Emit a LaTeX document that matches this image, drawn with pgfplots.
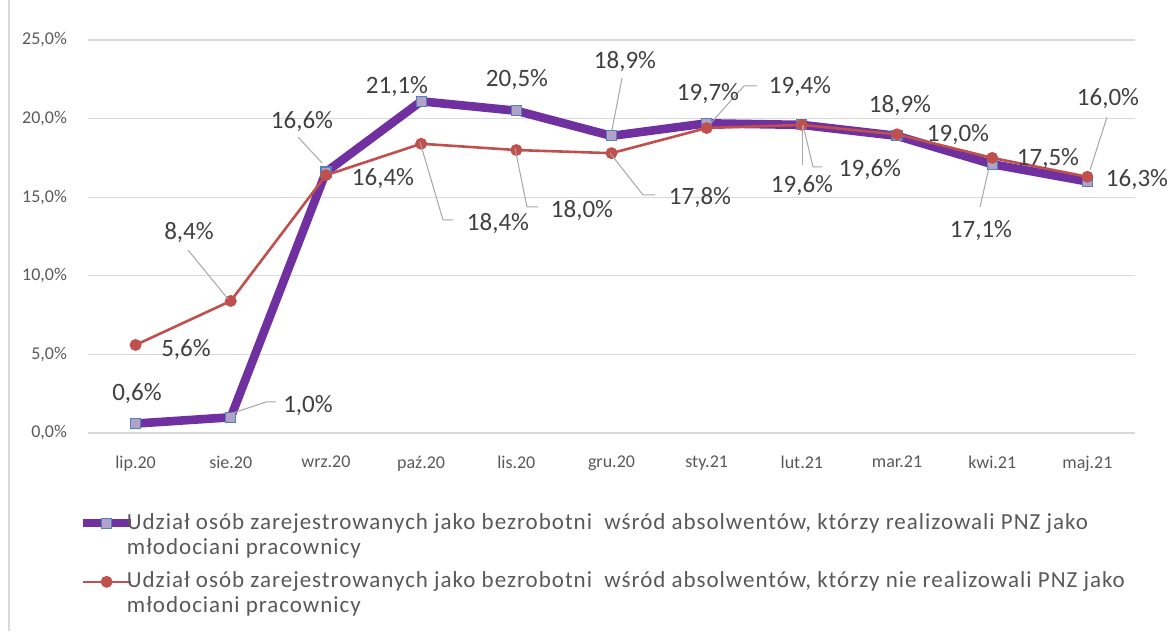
\documentclass[border=0pt]{standalone}
\usepackage{fontspec}
\setmainfont{Carlito}
\newfontfamily\legfont{Carlito}[LetterSpace=4.3]
\usepackage{pgfplots}
\pgfplotsset{compat=1.18}

\definecolor{fiolet}{HTML}{7030A0}
\definecolor{czerw}{HTML}{C0504D}
\definecolor{lawenda}{HTML}{B3A2C7}
\definecolor{niebieski}{HTML}{4F81BD}
\definecolor{siatka}{HTML}{D9D9D9}
\definecolor{napis}{HTML}{404040}
\definecolor{os}{HTML}{595959}
\definecolor{linia}{HTML}{A6A6A6}

\begin{document}
\begin{tikzpicture}
% 1 px obrazka = 0.5 pt; lewy dolny rog pola wykresu w (0,0)
\useasboundingbox (-44pt,-99pt) rectangle (544pt,216.5pt);
\draw[siatka, line width=0.6pt] (-39.5pt,-99pt) -- (-39.5pt,216.5pt);

\begin{axis}[
  at={(0pt,0pt)}, anchor=south west,
  scale only axis, width=523.5pt, height=196.5pt,
  xmin=-0.5, xmax=10.5, ymin=0, ymax=25,
  xtick={0,...,10},
  xticklabels={lip.20,sie.20,wrz.20,paź.20,lis.20,gru.20,sty.21,lut.21,mar.21,kwi.21,maj.21},
  ytick={0,5,...,25},
  yticklabels={{0,0\%},{5,0\%},{10,0\%},{15,0\%},{20,0\%},{25,0\%}},
  ymajorgrids, grid style={siatka, line width=0.6pt},
  axis line style={draw=none},
  major tick length=0pt,
  tick label style={font=\fontsize{9}{10}\selectfont, text=os},
  yticklabel style={xshift=-7pt},
  xticklabel style={yshift=-8pt},
  clip=false,
  legend style={at={(-0.0096,-0.203)}, anchor=north west, draw=none, fill=none,
    font=\legfont\fontsize{11.5}{12.5}\selectfont, text=os,
    nodes={inner sep=0pt, text depth=},
    cells={anchor=base west}, row sep=7pt, inner sep=0pt,
    /tikz/every odd column/.style={column sep=-4pt}},
  legend image code/.code={
    \draw[mark repeat=2,mark phase=2,#1] plot coordinates {(0pt,3pt)(12pt,3pt)(24pt,3pt)};},
]
\addplot[fiolet, line width=4.3pt, mark=square*, mark size=2.5pt,
  mark options={fill=lawenda, draw=niebieski, line width=0.6pt}]
  coordinates {(0,0.6)(1,1.0)(2,16.6)(3,21.1)(4,20.5)(5,18.9)(6,19.7)(7,19.6)(8,18.9)(9,17.1)(10,16.0)};
\addlegendentry{\parbox[t]{540pt}{Udział osób zarejestrowanych jako bezrobotni\ \ wśród absolwentów, którzy realizowali PNZ jako\\młodociani pracownicy}}
\addplot[czerw, line width=1.3pt, mark=*, mark size=2.3pt,
  mark options={fill=czerw, draw=czerw}]
  coordinates {(0,5.6)(1,8.4)(2,16.4)(3,18.4)(4,18.0)(5,17.8)(6,19.4)(7,19.6)(8,19.0)(9,17.5)(10,16.3)};
\addlegendentry{\parbox[t]{540pt}{Udział osób zarejestrowanych jako bezrobotni\ \ wśród absolwentów, którzy nie realizowali PNZ jako\\młodociani pracownicy}}
\end{axis}

% etykiety danych i linie odniesienia, w pikselach obrazka
\begin{scope}[shift={(-44pt,216.5pt)}, x=0.5pt, y=-0.5pt,
  lbl/.style={font=\fontsize{12.5}{14}\selectfont, text=napis, inner sep=0pt, text depth=0pt, anchor=center}]
\draw[linia, line width=0.5pt] (230,414) -- (266,402) -- (276,402);
\draw[linia, line width=0.5pt] (188,250) -- (228,299);
\draw[linia, line width=0.5pt] (298,137) -- (322,163);
\draw[linia, line width=0.5pt] (420,142) -- (443,220) -- (453,220);
\draw[linia, line width=0.5pt] (515,148) -- (527,207) -- (538,207);
\draw[linia, line width=0.5pt] (610,153) -- (643,195) -- (655,195);
\draw[linia, line width=0.5pt] (612,130) -- (622,78);
\draw[linia, line width=0.5pt] (711,123) -- (744,86) -- (757,86);
\draw[linia, line width=0.5pt] (802,125) -- (802,165);
\draw[linia, line width=0.5pt] (803,125) -- (813,167) -- (822,167);
\draw[linia, line width=0.5pt] (990,163) -- (980,207);
\draw[linia, line width=0.5pt] (1090,170) -- (1107,117);

\node[lbl] at (137,392) {0,6\%};
\node[lbl] at (308,404) {1,0\%};
\node[lbl] at (186,348) {5,6\%};
\node[lbl] at (189,231) {8,4\%};
\node[lbl] at (302,120) {16,6\%};
\node[lbl] at (383,177) {16,4\%};
\node[lbl] at (397,85) {21,1\%};
\node[lbl] at (498,222) {18,4\%};
\node[lbl] at (517,78) {20,5\%};
\node[lbl] at (582,209) {18,0\%};
\node[lbl] at (625,60) {18,9\%};
\node[lbl] at (700,196) {17,8\%};
\node[lbl] at (708,92) {19,7\%};
\node[lbl] at (800,85) {19,4\%};
\node[lbl] at (802,184) {19,6\%};
\node[lbl] at (870,168) {19,6\%};
\node[lbl] at (900,104) {18,9\%};
\node[lbl] at (958,133) {19,0\%};
\node[lbl] at (981,229) {17,1\%};
\node[lbl] at (1048,157) {17,5\%};
\node[lbl] at (1108,97) {16,0\%};
\node[lbl] at (1137,178) {16,3\%};
\end{scope}
\end{tikzpicture}
\end{document}
